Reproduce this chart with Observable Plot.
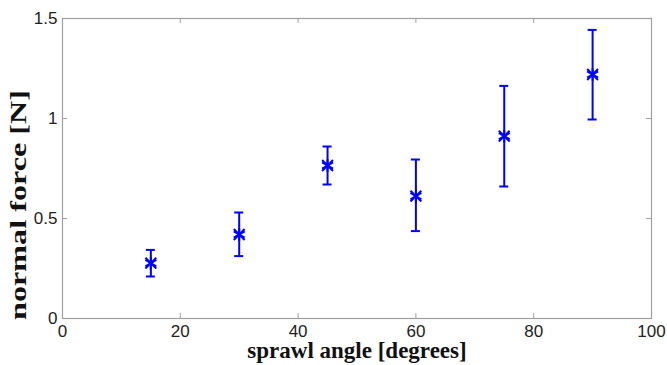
<!DOCTYPE html>
<html>
<head>
<meta charset="utf-8">
<script src="https://cdn.jsdelivr.net/npm/d3@7"></script>
<script src="https://cdn.jsdelivr.net/npm/@observablehq/plot@0.6"></script>
<style>
  html, body { margin: 0; padding: 0; background: #fff; }
</style>
</head>
<body>
<div id="chart"></div>
<script>
// Data
const angles = [15, 30, 45, 60, 75, 90];
const means  = [0.277, 0.42, 0.765, 0.612, 0.912, 1.22];
const lows   = [0.21, 0.312, 0.67, 0.437, 0.66, 0.995];
const highs  = [0.343, 0.53, 0.86, 0.795, 1.163, 1.443];
const xTicks = [0, 20, 40, 60, 80, 100];
const yTicks = [0, 0.5, 1, 1.5];
const xLabel = "sprawl angle [degrees]";
const yLabel = "normal force [N]";

const data = angles.map((a, i) => ({x: a, y: means[i], lo: lows[i], hi: highs[i]}));

const W = 667, H = 365;
const mL = 62, mR = 16, mT = 18, mB = 47;
const innerW = W - mL - mR, innerH = H - mT - mB;
const blue = "#0000ff";
const axisGray = "#a0a0a0";
const tickFont = "'Liberation Sans', Arial, Helvetica, sans-serif";
const labelFont = "'Liberation Serif', 'Times New Roman', Times, serif";

const chart = Plot.plot({
  width: W,
  height: H,
  marginLeft: mL,
  marginRight: mR,
  marginTop: mT,
  marginBottom: mB,
  style: {background: "#fff", fontFamily: tickFont},
  x: {domain: [0, 100]},
  y: {domain: [0, 1.5]},
  marks: [
    Plot.frame({stroke: axisGray, strokeWidth: 1.2}),
    // inward ticks on all four sides
    Plot.ruleX(xTicks, {x: d => d, stroke: axisGray, insetTop: innerH - 5}),
    Plot.ruleX(xTicks, {x: d => d, stroke: axisGray, insetBottom: innerH - 5}),
    Plot.ruleY(yTicks, {y: d => d, stroke: axisGray, insetRight: innerW - 5}),
    Plot.ruleY(yTicks, {y: d => d, stroke: axisGray, insetLeft: innerW - 5}),
    Plot.axisX({ticks: xTicks, tickSize: 0, tickPadding: 6, label: null,
      tickFormat: d => String(d), fontSize: 17, fill: "#222"}),
    Plot.axisY({ticks: yTicks, tickSize: 0, tickPadding: 5, label: null,
      tickFormat: d => String(d), fontSize: 17, fill: "#222"}),
    // error bars
    Plot.ruleX(data, {x: "x", y1: "lo", y2: "hi", stroke: blue, strokeWidth: 2}),
    Plot.ruleY(data, {y: "hi", x1: "x", x2: "x", insetLeft: -4.5, insetRight: -4.5, stroke: blue, strokeWidth: 2}),
    Plot.ruleY(data, {y: "lo", x1: "x", x2: "x", insetLeft: -4.5, insetRight: -4.5, stroke: blue, strokeWidth: 2}),
    // asterisk markers
    Plot.dot(data, {x: "x", y: "y", symbol: "asterisk", r: 6, stroke: blue, strokeWidth: 2}),
    Plot.dot(data, {x: "x", y: "y", symbol: "times", r: 5, stroke: blue, strokeWidth: 2}),
    // axis titles
    Plot.text([xLabel], {frameAnchor: "bottom", dy: 39, text: d => d,
      fontFamily: labelFont, fontWeight: "bold", fontSize: 23, fill: "#111"}),
    Plot.text([yLabel], {frameAnchor: "left", rotate: -90, textAnchor: "middle", text: d => d,
      fontFamily: labelFont, fontWeight: "bold", fontSize: 23, fill: "#111"})
  ]
});

document.getElementById("chart").appendChild(chart);
// place the rotated y title left of the frame, a bit below centre, stretched along its length
const yLabX = mL - 36, yLabY = mT + innerH / 2 + 37;
d3.select(chart).selectAll("text")
  .filter(function() { return this.textContent === yLabel; })
  .each(function() {
    const g = this.parentNode;
    if (g && g.getAttribute("transform")) g.removeAttribute("transform");
    d3.select(this)
      .attr("x", null).attr("y", null).attr("dx", null)
      .attr("text-anchor", "middle")
      .attr("transform", `translate(${yLabX},${yLabY}) rotate(-90) scale(1.4,1)`);
  });
</script>
</body>
</html>
